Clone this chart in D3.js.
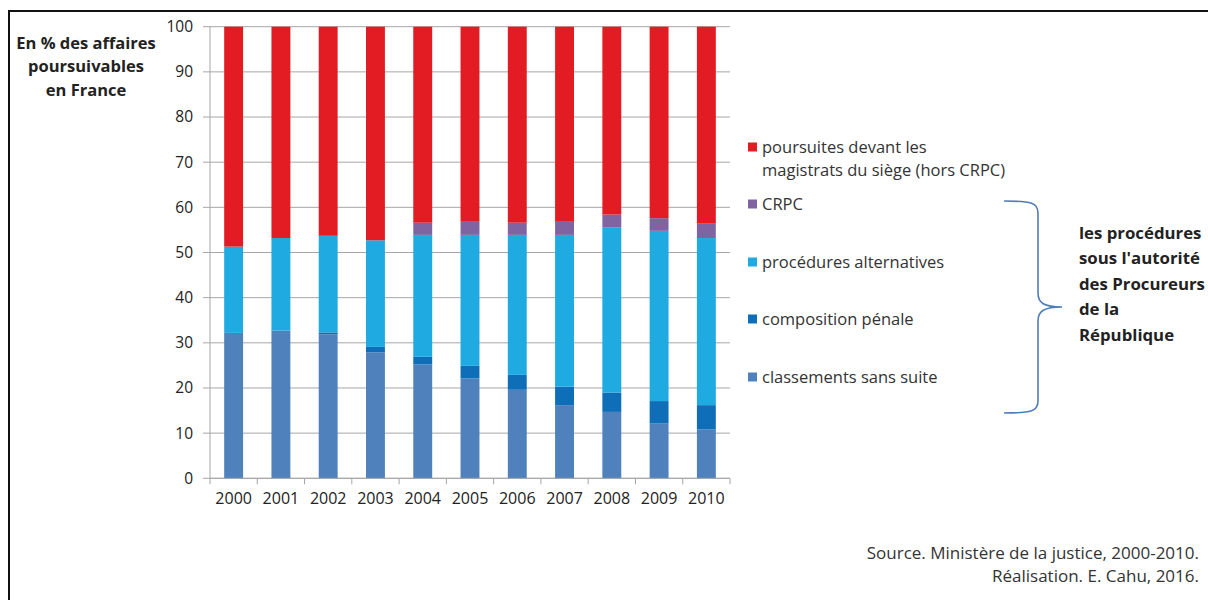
<!DOCTYPE html>
<html>
<head>
<meta charset="utf-8">
<script src="https://cdn.jsdelivr.net/npm/d3@7"></script>
<style>
  html, body { margin: 0; padding: 0; background: #fff; }
  svg { display: block; }
  text { font-family: "Open Sans", Lato, sans-serif; }
</style>
</head>
<body>
<svg id="chart" width="1208" height="600"></svg>
<script>
// ---------- data ----------
const years = ["2000","2001","2002","2003","2004","2005","2006","2007","2008","2009","2010"];
const seriesNames = ["classements sans suite","composition pénale","procédures alternatives","CRPC","poursuites  devant les magistrats du siège (hors CRPC)"];
const classements = [32.2, 32.7, 31.9, 27.9, 25.2, 22.1, 19.6, 16.2, 14.7, 12.2, 10.8];
const composition = [0.0, 0.0, 0.4, 1.2, 1.7, 2.8, 3.3, 4.1, 4.3, 4.9, 5.4];
const alternatives = [19.1, 20.5, 21.4, 23.6, 27.0, 29.0, 31.0, 33.6, 36.6, 37.7, 37.0];
const crpc = [0.0, 0.0, 0.0, 0.0, 2.7, 2.9, 2.7, 2.9, 2.8, 2.8, 3.3];
const poursuites = [48.7, 46.8, 46.3, 47.3, 43.4, 43.2, 43.4, 43.2, 41.6, 42.4, 43.5];
const yTicks = [0,10,20,30,40,50,60,70,80,90,100];
const colors = ["#4F81BD","#0E6EB8","#1FAAE2","#8064A2","#E31B23"];

// ---------- layout ----------
const svg = d3.select("#chart");
const x = d3.scaleBand().domain(years).range([210, 730]).paddingInner(0.6).paddingOuter(0.3);
const y = d3.scaleLinear().domain([0, 100]).range([478.3, 26.7]);

// frame
svg.append("rect").attr("x", 9).attr("y", 11).attr("width", 1400).attr("height", 800)
  .attr("fill", "none").attr("stroke", "#111").attr("stroke-width", 2);

// gridlines
svg.append("g").selectAll("line").data(yTicks).join("line")
  .attr("x1", 203).attr("x2", 730)
  .attr("y1", d => y(d)).attr("y2", d => y(d))
  .attr("stroke", "#a6a6a6").attr("stroke-width", 1);

// y axis line
svg.append("line").attr("x1", 210).attr("x2", 210).attr("y1", y(100)).attr("y2", y(0))
  .attr("stroke", "#a6a6a6").attr("stroke-width", 1);

// y tick labels
svg.append("g").selectAll("text").data(yTicks).join("text")
  .attr("x", 193).attr("y", d => y(d)).attr("dy", "0.35em")
  .attr("text-anchor", "end").attr("font-size", 15.5).attr("fill", "#222")
  .text(d => d);

// stacked bars
const table = years.map((yr, i) => ({
  year: yr, s0: classements[i], s1: composition[i], s2: alternatives[i], s3: crpc[i], s4: poursuites[i]
}));
const stack = d3.stack().keys(["s0","s1","s2","s3","s4"]);
const stacked = stack(table);
svg.append("g").selectAll("g").data(stacked).join("g")
  .attr("fill", (d, i) => colors[i])
  .selectAll("rect").data(d => d).join("rect")
  .attr("x", d => x(d.data.year))
  .attr("width", x.bandwidth())
  .attr("y", d => y(Math.min(100, d[1])))
  .attr("height", d => Math.max(0, y(d[0]) - y(Math.min(100, d[1]))));

// x axis
const xAxisG = svg.append("g").attr("transform", `translate(0,${y(0)})`);
xAxisG.append("line").attr("x1", 210).attr("x2", 730).attr("y1", 0).attr("y2", 0)
  .attr("stroke", "#a6a6a6");
const bounds = years.map(yr => x(yr) - x.step() * 0.3).concat([730]);
xAxisG.selectAll("line.tk").data(bounds).join("line").attr("class", "tk")
  .attr("x1", d => d).attr("x2", d => d).attr("y1", 0).attr("y2", 6)
  .attr("stroke", "#a6a6a6");
xAxisG.selectAll("text").data(years).join("text")
  .attr("x", d => x(d) + x.bandwidth() / 2).attr("y", 25.5)
  .attr("text-anchor", "middle").attr("font-size", 16).attr("fill", "#222")
  .text(d => d);

// y title
const yTitle = ["En % des affaires", "poursuivables", "en France"];
svg.append("g").selectAll("text").data(yTitle).join("text")
  .attr("x", 86).attr("y", (d, i) => 48.5 + i * 23.5)
  .attr("text-anchor", "middle").attr("font-size", 16.5).attr("font-weight", "bold").attr("fill", "#222")
  .text(d => d);

// legend
const legendItems = [
  { lines: ["poursuites  devant les", "magistrats du siège (hors CRPC)"], color: colors[4], y: 147 },
  { lines: ["CRPC"], color: colors[3], y: 204 },
  { lines: ["procédures alternatives"], color: colors[2], y: 262 },
  { lines: ["composition pénale"], color: colors[1], y: 319 },
  { lines: ["classements sans suite"], color: colors[0], y: 377 }
];
const lg = svg.append("g").selectAll("g").data(legendItems).join("g");
lg.append("rect").attr("x", 748).attr("y", d => d.y - 4.5).attr("width", 9).attr("height", 9)
  .attr("fill", d => d.color);
lg.each(function(d) {
  d3.select(this).selectAll("text").data(d.lines).join("text")
    .attr("x", 762).attr("y", (t, i) => d.y + i * 23).attr("dy", "0.35em")
    .attr("font-size", 16.5).attr("fill", "#333").text(t => t);
});

// bracket
const bx0 = 1004, bx1 = 1038, btip = 1062, by0 = 201, by1 = 413, bmid = 307;
const bracket = `M${bx0},${by0} C${bx1 - 6},${by0} ${bx1},${by0 + 2} ${bx1},${by0 + 12}
 L${bx1},${bmid - 14} C${bx1},${bmid - 4} ${bx1 + 6},${bmid} ${btip},${bmid}
 C${bx1 + 6},${bmid} ${bx1},${bmid + 4} ${bx1},${bmid + 14}
 L${bx1},${by1 - 12} C${bx1},${by1 - 2} ${bx1 - 6},${by1} ${bx0},${by1}`;
svg.append("path").attr("d", bracket).attr("fill", "none")
  .attr("stroke", "#4F7DB8").attr("stroke-width", 1.6);

// bracket label
const bLabel = ["les procédures", "sous l'autorité", "des Procureurs", "de la", "République"];
svg.append("g").selectAll("text").data(bLabel).join("text")
  .attr("x", 1079).attr("y", (d, i) => 233 + i * 25.5).attr("dy", "0.35em")
  .attr("font-size", 16.8).attr("font-weight", "bold").attr("fill", "#222")
  .text(d => d);

// source
const src = ["Source. Ministère de la justice, 2000-2010.", "Réalisation. E. Cahu, 2016."];
svg.append("g").selectAll("text").data(src).join("text")
  .attr("x", 1199).attr("y", (d, i) => 553 + i * 23).attr("dy", "0.35em")
  .attr("text-anchor", "end").attr("font-size", 17).attr("fill", "#333")
  .text(d => d);
</script>
</body>
</html>
